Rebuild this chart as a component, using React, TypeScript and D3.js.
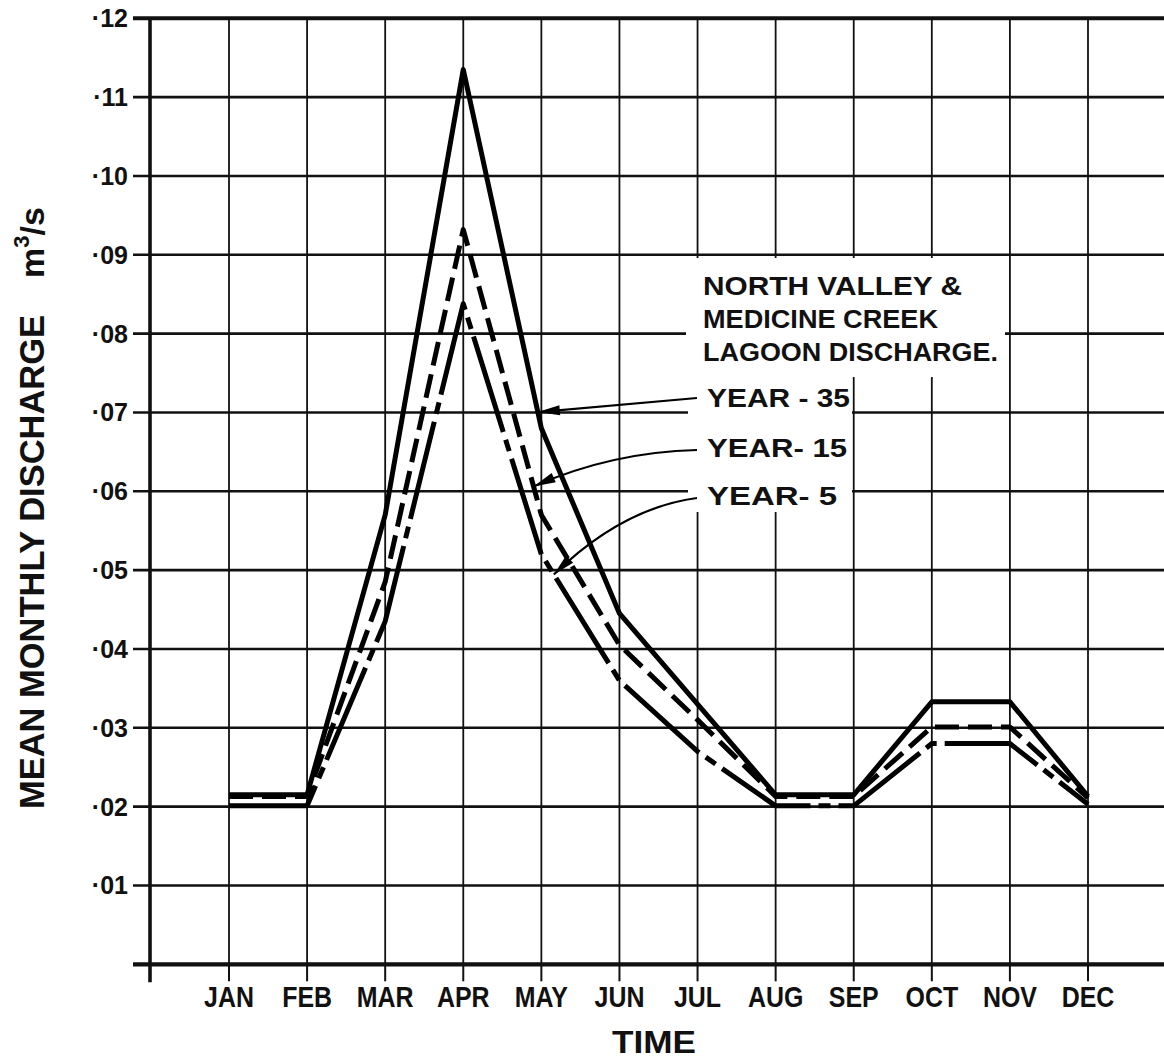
import React from "react";
import * as d3 from "d3";

const MONTHS = ["JAN", "FEB", "MAR", "APR", "MAY", "JUN", "JUL", "AUG", "SEP", "OCT", "NOV", "DEC"];
const YEAR35 = [0.0215, 0.0215, 0.057, 0.1135, 0.068, 0.0445, 0.033, 0.0215, 0.0215, 0.0333, 0.0333, 0.0213];
const YEAR15 = [0.0213, 0.0213, 0.0485, 0.0932, 0.057, 0.0405, 0.031, 0.0213, 0.0213, 0.0301, 0.0301, 0.0211];
const YEAR5 = [0.0201, 0.0201, 0.0435, 0.0838, 0.052, 0.036, 0.027, 0.0201, 0.0201, 0.028, 0.028, 0.0203];
const Y_TICKS = [0.01, 0.02, 0.03, 0.04, 0.05, 0.06, 0.07, 0.08, 0.09, 0.1, 0.11, 0.12];
const Y_TICK_LABELS = ["·01", "·02", "·03", "·04", "·05", "·06", "·07", "·08", "·09", "·10", "·11", "·12"];
const TITLE_LINES = ["NORTH VALLEY &", "MEDICINE CREEK", "LAGOON DISCHARGE."];
const SERIES_LABELS = ["YEAR - 35", "YEAR- 15", "YEAR- 5"];

const W = 1164;
const H = 1059;
const FONT = "'Liberation Sans', Arial, sans-serif";

export default function App() {
  const x = d3.scaleLinear().domain([0, 11]).range([229, 1088]);
  const y = d3.scaleLinear().domain([0, 0.12]).range([964.3, 18.3]);
  const axisX = 150;
  const left = 133;

  const line = d3
    .line<number>()
    .x((_, i) => x(i))
    .y((d) => y(d));

  const interp = (arr: number[], t: number) => {
    const i0 = Math.floor(t);
    const f = t - i0;
    return arr[i0] + (arr[i0 + 1] - arr[i0]) * f;
  };

  const annos = [
    { label: SERIES_LABELS[0], series: YEAR35, tipIdx: 3.955, textY: 407, start: [697, 398], ctrl: null as null | number[], tw: 143 },
    { label: SERIES_LABELS[1], series: YEAR15, tipIdx: 3.9, textY: 457, start: [697, 450], ctrl: [612, 452], tw: 140 },
    { label: SERIES_LABELS[2], series: YEAR5, tipIdx: 4.16, textY: 505, start: [697, 498], ctrl: [622, 508], tw: 130 },
  ];

  const arrowHead = (tip: number[], from: number[]) => {
    const dx = tip[0] - from[0];
    const dy = tip[1] - from[1];
    const len = Math.hypot(dx, dy);
    const ux = dx / len, uy = dy / len;
    const L = 22, hw = 5;
    const bx = tip[0] - ux * L, by = tip[1] - uy * L;
    return `M${tip[0]},${tip[1]}L${bx - uy * hw},${by + ux * hw}L${bx + uy * hw},${by - ux * hw}Z`;
  };

  return (
    <svg
      width={W}
      height={H}
      style={{ position: "absolute", left: 0, top: 0, background: "#fff", display: "block" }}
      fontFamily={FONT}
    >
      <rect x={0} y={0} width={W} height={H} fill="#fff" />
      {MONTHS.map((m, i) => (
        <g key={m}>
          <line x1={x(i)} x2={x(i)} y1={y(0.12)} y2={y(0)} stroke="#111" strokeWidth={1.8} />
          <line x1={x(i)} x2={x(i)} y1={y(0)} y2={y(0) + 17} stroke="#111" strokeWidth={2} />
        </g>
      ))}
      {Y_TICKS.map((v) => (
        <line
          key={v}
          x1={left}
          x2={W}
          y1={y(v)}
          y2={y(v)}
          stroke="#111"
          strokeWidth={v === 0.12 ? 4 : 2.6}
        />
      ))}
      <line x1={left} x2={W} y1={y(0)} y2={y(0)} stroke="#111" strokeWidth={4.2} />
      <line x1={axisX} x2={axisX} y1={y(0.12)} y2={y(0) + 18} stroke="#111" strokeWidth={3.6} />

      <rect x={686} y={258} width={319} height={119} fill="#fff" />
      <rect x={688} y={377} width={164} height={135} fill="#fff" />

      {Y_TICKS.map((v, i) => (
        <text
          key={v}
          transform={`translate(128,${y(v) + 9}) scale(1,1)`}
          textAnchor="end"
          fontSize={25}
          fontWeight="bold"
          fill="#111"
        >
          {Y_TICK_LABELS[i]}
        </text>
      ))}

      {MONTHS.map((m, i) => (
        <text
          key={m}
          transform={`translate(${x(i)},1007) scale(0.86,1)`}
          textAnchor="middle"
          fontSize={29}
          fontWeight="bold"
          fill="#111"
        >
          {m}
        </text>
      ))}

      <text x={654} y={1053} textAnchor="middle" fontSize={32} fontWeight="bold" fill="#111" textLength={84} lengthAdjust="spacingAndGlyphs">
        TIME
      </text>

      <g transform="translate(44,562) rotate(-90)">
        <text x={0} y={0} textAnchor="middle" fontSize={35} fontWeight="bold" fill="#111" textLength={494} lengthAdjust="spacingAndGlyphs">
          MEAN MONTHLY DISCHARGE
        </text>
      </g>
      <g transform="translate(44,278) rotate(-90)">
        <text x={0} y={0} fontSize={34} fontWeight="bold" fill="#111">
          m
          <tspan fontSize={22} dy={-15}>3</tspan>
          <tspan dy={15}>/s</tspan>
        </text>
      </g>

      <path d={line(YEAR5) || ""} fill="none" stroke="#000" strokeWidth={5} strokeDasharray="100 8 12 8" strokeLinejoin="round" />
      <path d={line(YEAR15) || ""} fill="none" stroke="#000" strokeWidth={5} strokeDasharray="24 9" strokeLinejoin="round" />
      <path d={line(YEAR35) || ""} fill="none" stroke="#000" strokeWidth={5} strokeLinejoin="round" />

      {TITLE_LINES.map((t, i) => (
        <text
          key={t}
          x={703}
          y={295 + i * 33}
          fontSize={26}
          fontWeight="bold"
          fill="#111"
          textLength={[259, 235, 295][i]}
          lengthAdjust="spacingAndGlyphs"
        >
          {t}
        </text>
      ))}

      {annos.map((a) => {
        const tip = [x(a.tipIdx), y(interp(a.series, a.tipIdx))];
        const d = a.ctrl
          ? `M${a.start[0]},${a.start[1]}Q${a.ctrl[0]},${a.ctrl[1]} ${tip[0]},${tip[1]}`
          : `M${a.start[0]},${a.start[1]}L${tip[0]},${tip[1]}`;
        const from = a.ctrl ? a.ctrl : a.start;
        return (
          <g key={a.label}>
            <path d={d} fill="none" stroke="#000" strokeWidth={2.2} />
            <path d={arrowHead(tip, from)} fill="#000" />
            <text
              x={707}
              y={a.textY}
              fontSize={25}
              fontWeight="bold"
              fill="#111"
              textLength={a.tw}
              lengthAdjust="spacingAndGlyphs"
            >
              {a.label}
            </text>
          </g>
        );
      })}
    </svg>
  );
}
